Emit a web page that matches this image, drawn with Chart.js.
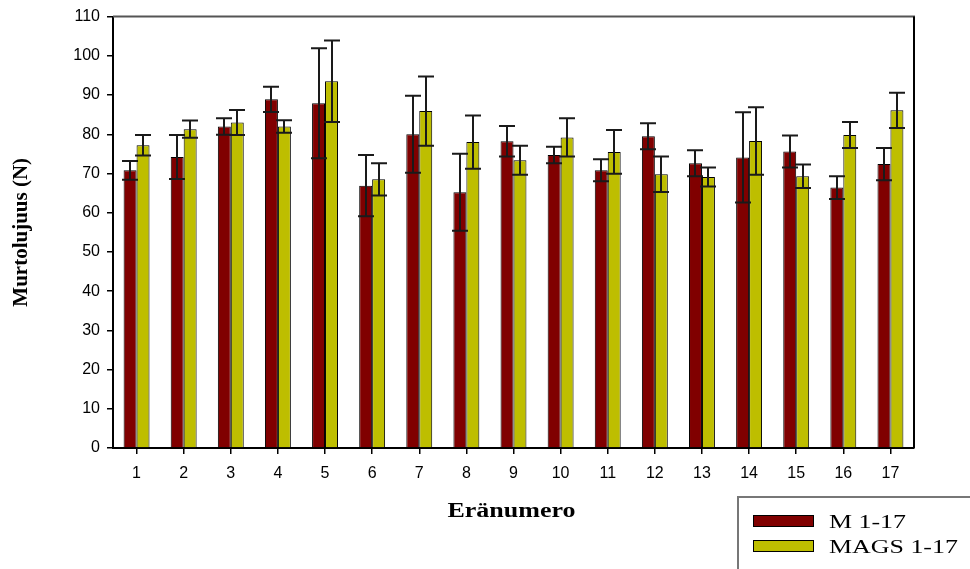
<!DOCTYPE html>
<html><head><meta charset="utf-8">
<script src="https://cdn.jsdelivr.net/npm/chart.js@4"></script>
<style>html,body{margin:0;padding:0;background:#fff}canvas{display:block}</style>
</head><body>
<canvas id="c" width="970" height="569"></canvas>
<script>
const categories = ['1','2','3','4','5','6','7','8','9','10','11','12','13','14','15','16','17'];
const seriesNames = ['M 1-17', 'MAGS 1-17'];
const mValues = [70.8, 74.2, 82.0, 88.9, 87.9, 66.9, 80.0, 65.2, 78.2, 74.7, 70.8, 79.5, 72.6, 74.1, 75.6, 66.4, 72.4];
const mErrors = [2.4, 5.6, 2.1, 3.2, 14.0, 7.8, 9.8, 9.8, 3.9, 2.1, 2.8, 3.3, 3.3, 11.5, 4.1, 2.9, 4.1];
const magsValues = [77.2, 81.3, 83.0, 82.0, 93.5, 68.5, 85.9, 78.0, 73.4, 79.2, 75.5, 69.8, 69.1, 78.3, 69.3, 79.8, 86.1];
const magsErrors = [2.6, 2.2, 3.2, 1.6, 10.4, 4.1, 8.8, 6.8, 3.7, 4.9, 5.6, 4.5, 2.4, 8.6, 3.0, 3.3, 4.5];
const yTicks = [0, 10, 20, 30, 40, 50, 60, 70, 80, 90, 100, 110];
const xTitle = 'Eränumero';
const yTitle = 'Murtolujuus (N)';

const plotFrame = {
  id: 'plotFrame',
  afterDraw(chart) {
    const {ctx, chartArea: a} = chart;
    ctx.save();
    ctx.lineWidth = 2;
    ctx.strokeStyle = '#555';
    ctx.beginPath(); ctx.moveTo(a.left, a.top); ctx.lineTo(a.right + 1, a.top); ctx.stroke();
    ctx.strokeStyle = '#000';
    ctx.beginPath(); ctx.moveTo(a.right, a.top); ctx.lineTo(a.right, a.bottom); ctx.stroke();
    ctx.restore();
  }
};

const errorBars = {
  id: 'errorBars',
  afterDatasetsDraw(chart) {
    const y = chart.scales.y, ctx = chart.ctx;
    ctx.save();
    ctx.strokeStyle = '#1a1a1a';
    ctx.lineWidth = 2;
    chart.data.datasets.forEach((ds, i) => {
      const meta = chart.getDatasetMeta(i);
      meta.data.forEach((bar, j) => {
        const v = ds.data[j], e = ds.errors[j];
        const yt = y.getPixelForValue(v + e), yb = y.getPixelForValue(v - e);
        const x = Math.round(bar.x);
        ctx.beginPath();
        ctx.moveTo(x, yt); ctx.lineTo(x, yb);
        ctx.moveTo(x - 8, yt); ctx.lineTo(x + 8, yt);
        ctx.moveTo(x - 8, yb); ctx.lineTo(x + 8, yb);
        ctx.stroke();
      });
    });
    ctx.restore();
  }
};

const extras = {
  id: 'extras',
  afterDraw(chart) {
    const ctx = chart.ctx, a = chart.chartArea;
    // x axis title
    ctx.save();
    ctx.fillStyle = '#000';
    ctx.font = 'bold 20px "Liberation Serif"';
    ctx.textAlign = 'center';
    ctx.textBaseline = 'alphabetic';
    ctx.translate((a.left + a.right) / 2 - 2, 517);
    ctx.scale(1.3, 1);
    ctx.fillText(xTitle, 0, 0);
    ctx.restore();
    // legend box
    ctx.save();
    ctx.strokeStyle = '#777';
    ctx.lineWidth = 2;
    ctx.beginPath(); ctx.moveTo(738, 575); ctx.lineTo(738, 497); ctx.lineTo(975, 497); ctx.stroke();
    const rows = [515, 540];
    chart.data.datasets.forEach((ds, i) => {
      const top = rows[i];
      ctx.fillStyle = ds.backgroundColor;
      ctx.fillRect(753, top, 61, 12);
      ctx.strokeStyle = '#000';
      ctx.lineWidth = 1;
      ctx.strokeRect(753.5, top + 0.5, 60, 11);
      ctx.save();
      ctx.fillStyle = '#000';
      ctx.font = '18px "Liberation Serif"';
      ctx.textAlign = 'left';
      ctx.textBaseline = 'alphabetic';
      ctx.translate(829, top + 12.5);
      ctx.scale(1.44, 1);
      ctx.fillText(ds.label, 0, 0);
      ctx.restore();
    });
    ctx.restore();
  }
};

new Chart(document.getElementById('c'), {
  type: 'bar',
  data: {
    labels: categories,
    datasets: [
      { label: seriesNames[0], data: mValues, errors: mErrors, backgroundColor: '#800000', borderColor: '#000', borderWidth: 1, categoryPercentage: 0.55, barPercentage: 1.0 },
      { label: seriesNames[1], data: magsValues, errors: magsErrors, backgroundColor: '#bebe00', borderColor: '#000', borderWidth: 1, categoryPercentage: 0.55, barPercentage: 1.0 }
    ]
  },
  options: {
    responsive: false,
    animation: false,
    devicePixelRatio: 1,
    layout: { padding: { left: 0, top: 16, right: 56, bottom: 0 } },
    plugins: { legend: { display: false }, tooltip: { enabled: false } },
    scales: {
      x: {
        grid: { display: true, drawOnChartArea: false, drawTicks: true, tickLength: 6, offset: false, color: '#000', lineWidth: 1.5 },
        border: { display: true, color: '#000', width: 2 },
        ticks: { color: '#000', font: { family: '"Liberation Sans", Arial', size: 16 }, padding: 10, maxRotation: 0 },
        afterFit(scale) { scale.height = 121; }
      },
      y: {
        min: 0, max: 110,
        afterBuildTicks(scale) { scale.ticks = yTicks.map(v => ({ value: v })); },
        grid: { display: true, drawOnChartArea: false, drawTicks: true, tickLength: 6, color: '#000', lineWidth: 1.5 },
        border: { display: true, color: '#000', width: 2 },
        ticks: { color: '#000', font: { family: '"Liberation Sans", Arial', size: 16 }, padding: 7 },
        title: { display: true, text: yTitle, color: '#000', font: { family: '"Liberation Serif"', size: 21, weight: 'bold' }, padding: { top: 9, bottom: 0 } },
        afterFit(scale) { scale.width = 113; }
      }
    }
  },
  plugins: [errorBars, plotFrame, extras]
});
</script>
</body></html>
